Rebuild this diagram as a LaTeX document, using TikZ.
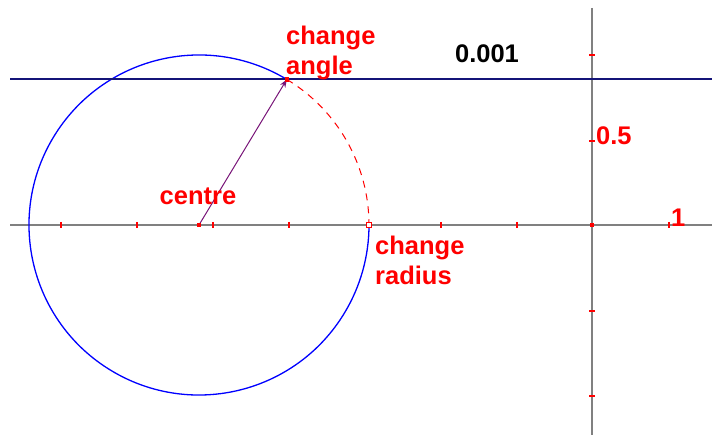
\documentclass[tikz,border=0pt]{standalone}
\usepackage{fontspec}
\setmainfont{Liberation Sans}
\usepackage{tikz}
\usetikzlibrary{positioning, arrows.meta}

\definecolor{grigioasse}{RGB}{128,128,128}
\definecolor{blunotte}{RGB}{20,20,120}
\definecolor{viola}{RGB}{120,20,120}

\begin{document}
\begin{tikzpicture}[x=1pt, y=-1pt]
    % Stili per assi, tacche ed etichette
    \tikzset{
        asse/.style={draw=grigioasse, line width=1.6pt},
        tacca/.style={draw=red, line width=1.6pt},
        etichetta/.style={text=red, inner sep=0pt,
            font=\bfseries\fontsize{25.5}{30}\selectfont},
        marcatore/.style={rectangle, fill=red, minimum size=4.5pt, inner sep=0pt}
    }
    \useasboundingbox (0,0) rectangle (712,435);

    % --- Assi cartesiani ---
    \coordinate (O) at (592,225);
    \draw[asse] (10,225) -- (712,225);
    \draw[asse] (592,8) -- (592,435);

    % Tacche sugli assi
    \foreach \x in {61, 137, 213, 289, 441, 517, 669} {
        \draw[tacca] (\x,222) -- (\x,228);
    }
    \foreach \y in {55, 141, 311, 396} {
        \draw[tacca] (589,\y) -- (595,\y);
    }
    \node[marcatore] (origine) at (O) {};

    % --- Cerchio e punti di controllo ---
    \coordinate (ctr) at (199,225);
    \path (ctr) ++(58.9:170pt) coordinate (ang);
    \path (ctr) ++(0:170pt) coordinate (rad);

    % arco blu dal punto angolo fino al punto raggio, il resto tratteggiato
    \draw[blue, line width=1.3pt]
        (ang) arc[start angle=58.9, end angle=360, radius=170pt];
    \draw[red, line width=1pt, dash pattern=on 7pt off 6pt]
        (ang) arc[start angle=58.9, end angle=0, radius=170pt];

    % Retta orizzontale per il punto angolo
    \coordinate (sx) at (10,79);
    \coordinate (dx) at (712,79);
    \draw[blunotte, line width=1.8pt] (sx) -- (dx);

    % Raggio con freccia
    \draw[viola, line width=1pt, -{Stealth[length=8pt, width=6pt]}] (ctr) -- (ang);

    \node[marcatore] (mcentro) at (ctr) {};
    \node[marcatore] (mangolo) at (ang) {};
    \node[rectangle, draw=red, line width=1pt, minimum size=5pt, inner sep=0pt, fill=white] (mraggio) at (rad) {};

    % --- Etichette ---
    \node[etichetta, anchor=base] (lcentro) at (198,205) {centre};
    \node[etichetta, anchor=south west, align=left] (langolo) at (286,80) {change\\angle};
    \node[etichetta, anchor=north west, align=left] (lraggio) at (375,236) {change\\radius};
    \node[etichetta, text=black, anchor=base] (lscala) at (487,63) {0.001};
    \node[etichetta, anchor=base west] (lmezzo) at (596,145) {0.5};
    \node[etichetta, anchor=base west] (luno) at (671,227) {1};
\end{tikzpicture}
\end{document}
